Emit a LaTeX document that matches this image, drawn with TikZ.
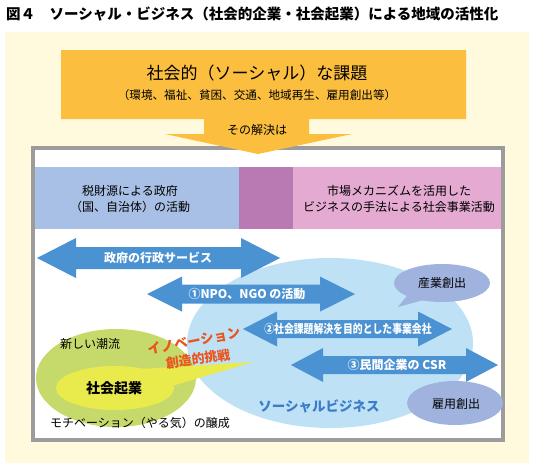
\documentclass[tikz,border=0pt]{standalone}
\usepackage{fontspec}
\usepackage{graphicx}
\setmainfont{Noto Sans CJK JP}
\definecolor{cream}{HTML}{FFF9DE}
\definecolor{orangebox}{HTML}{FBBE3E}
\definecolor{framegray}{HTML}{9C9C9C}
\definecolor{bandblue}{HTML}{A9C0E6}
\definecolor{bandpurple}{HTML}{B979B2}
\definecolor{bandpink}{HTML}{E4AAD2}
\definecolor{arrowblue}{HTML}{4A92D2}
\definecolor{lightblue}{HTML}{BEE1F6}
\definecolor{greenish}{HTML}{C6D96B}
\definecolor{yellowish}{HTML}{E9EA4C}
\definecolor{lavender}{HTML}{A0B2DE}
\definecolor{innov}{HTML}{E9551D}
\definecolor{sbtext}{HTML}{3C7DC8}
\newcommand\fs[1]{\fontsize{#1}{#1}\selectfont}
\newcommand\dblarrowshape[6]{%
\fill[arrowblue] (#1,#3) -- ({#1+#4},{#3-#5}) -- ({#1+#4},{#3-#6}) -- ({#2-#4},{#3-#6}) -- ({#2-#4},{#3-#5}) -- (#2,#3) -- ({#2-#4},{#3+#5}) -- ({#2-#4},{#3+#6}) -- ({#1+#4},{#3+#6}) -- ({#1+#4},{#3+#5}) -- cycle;}
\tikzset{
  txt/.style={inner sep=0pt, font=\fs{12}},
  arrtxt/.style={inner sep=0pt, text=white, font=\bfseries\fs{12}},
}
\begin{document}
\begin{tikzpicture}[x=1pt,y=-1pt]
\useasboundingbox (0,0) rectangle (534,469);
\fill[white] (0,0) rectangle (534,469);
\node[anchor=west, inner sep=0pt, font=\bfseries\fs{14.5}] (title) at (6,14) {図４　ソーシャル・ビジネス（社会的企業・社会起業）による地域の活性化};
\fill[cream] (5,32) rectangle (529,463);
% frame
\draw[line width=4pt, framegray, fill=white] (33,148) rectangle (503,440);
% orange box with down arrow
\fill[orangebox] (61,50) -- (466,50) -- (466,119) -- (309,119) -- (309,134) -- (352,134) -- (258,154) -- (165,134) -- (204,134) -- (204,119) -- (61,119) -- cycle;
\node[txt, font=\fs{17}] (issue) at (257,73) {社会的（ソーシャル）な課題};
\node[txt, font=\fs{11.6}] (issuesub) at (257,95) {（環境、福祉、貧困、交通、地域再生、雇用創出等）};
\node[txt] (sol) at (257,130) {その解決は};
% bands
\fill[bandblue] (35,167) rectangle (239,229);
\fill[bandpurple] (239,167) rectangle (293,229);
\fill[bandpink] (293,167) rectangle (501,229);
\node[txt, align=center] (gov) at (130,199) {税財源による政府\\[4pt]（国、自治体）の活動};
\node[txt, align=center] (mkt) at (399,199) {市場メカニズムを活用した\\[4pt]ビジネスの手法による社会事業活動};
% ellipses
\fill[lightblue] (330,343) ellipse [x radius=143, y radius=85];
\fill[greenish] (116,378) ellipse [x radius=80, y radius=49];
\fill[yellowish] (115,388) ellipse [x radius=59, y radius=22];
\fill[yellowish] (140,369) -- (253,362) -- (172,386) -- cycle;
% arrows
\dblarrowshape{37}{280}{258}{39}{20}{11}
\dblarrowshape{147}{355}{294}{35}{17.5}{9.5}
\dblarrowshape{243}{452}{329}{34}{17.5}{9}
\dblarrowshape{291}{498}{365}{32}{17}{9}
\node[arrtxt] (a1) at (158,258) {政府の行政サービス};
\node[arrtxt] (a2) at (247,294) {①NPO、NGO の活動};
\node[arrtxt] (a3) at (348,329) {\scalebox{0.82}[1]{②社会課題解決を目的とした事業会社}};
\node[arrtxt] (a4) at (397,365) {③民間企業の CSR};
% bubbles
\fill[lavender] (442,283) ellipse [x radius=48, y radius=19];
\fill[lavender] (409,293) -- (398,307) -- (427,299) -- cycle;
\node[txt] (ind) at (442,283) {産業創出};
\fill[lavender] (455,403) ellipse [x radius=48, y radius=22];
\node[txt] (emp) at (456,404) {雇用創出};
% texts
\node[txt] (trend) at (90,344) {新しい潮流};
\node[txt, font=\bfseries\fs{14}] (se) at (114,388) {社会起業};
\node[txt] (motiv) at (140,423) {モチベーション（やる気）の醸成};
\node[txt, text=sbtext, font=\bfseries\fs{13.5}] (sb) at (319,406) {ソーシャルビジネス};
\node[txt, text=innov, font=\bfseries\fs{13.5}, rotate=11] (inno) at (194,341) {イノベーション};
\node[txt, text=innov, font=\bfseries\fs{13}, rotate=8] (chal) at (198,359) {創造的挑戦};
\end{tikzpicture}
\end{document}
